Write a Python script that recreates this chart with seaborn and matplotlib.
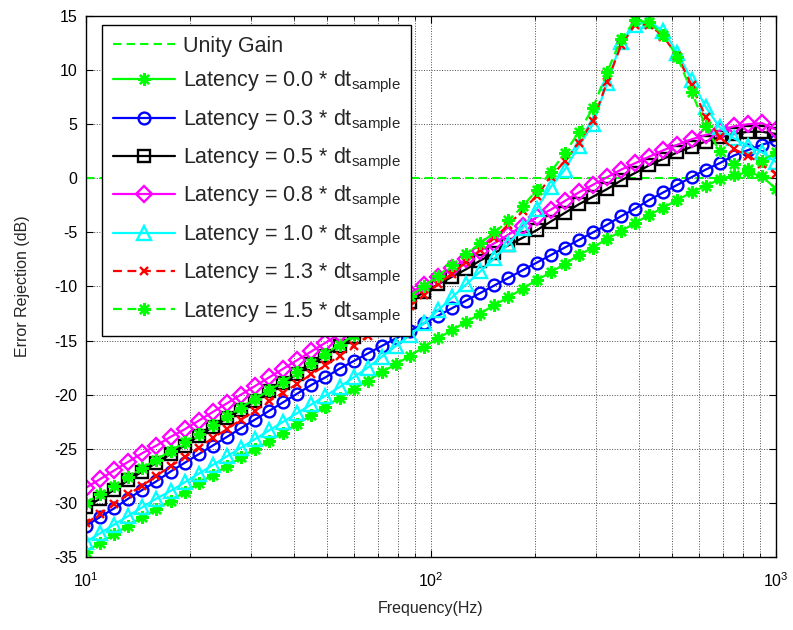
import matplotlib
matplotlib.use("Agg")
import matplotlib.pyplot as plt
import seaborn as sns

# frequency grid (Hz), 50 log-spaced points
freq = [10.00, 10.99, 12.07, 13.26, 14.56, 16.00, 17.58, 19.31, 21.21, 23.30,
        25.60, 28.12, 30.89, 33.93, 37.28, 40.95, 44.99, 49.42, 54.29, 59.64,
        65.51, 71.97, 79.06, 86.85, 95.41, 104.81, 115.14, 126.49, 138.95, 152.65,
        167.68, 184.21, 202.36, 222.30, 244.21, 268.27, 294.71, 323.75, 355.65, 390.69,
        429.19, 471.49, 517.95, 568.99, 625.06, 686.65, 754.31, 828.64, 910.30, 1000.00]

unity_freq = [10, 1000]
unity_gain = [0, 0]

lat_00 = [-34.5, -33.7, -32.9, -32.1, -31.3, -30.6, -29.8, -29.0, -28.2, -27.4,
          -26.6, -25.8, -25.0, -24.3, -23.5, -22.7, -21.9, -21.1, -20.3, -19.5,
          -18.7, -17.9, -17.2, -16.4, -15.6, -14.8, -14.0, -13.3, -12.5, -11.7,
          -11.0, -10.2, -9.4, -8.7, -7.9, -7.1, -6.4, -5.6, -4.9, -4.1,
          -3.4, -2.7, -2.0, -1.3, -0.7, -0.1, 0.3, 0.55, 0.2, -1.0]

lat_03 = [-32.1, -31.3, -30.5, -29.6, -28.8, -28.0, -27.1, -26.3, -25.5, -24.7,
          -23.9, -23.1, -22.3, -21.5, -20.7, -19.9, -19.1, -18.4, -17.6, -16.9,
          -16.2, -15.5, -14.8, -14.1, -13.4, -12.7, -12.0, -11.3, -10.6, -9.9,
          -9.2, -8.5, -7.8, -7.1, -6.4, -5.7, -5.0, -4.3, -3.5, -2.8,
          -2.0, -1.3, -0.6, 0.1, 0.8, 1.4, 2.1, 2.6, 3.1, 3.5]

lat_05 = [-30.4, -29.6, -28.8, -27.9, -27.1, -26.3, -25.5, -24.7, -23.8, -23.0,
          -22.2, -21.4, -20.6, -19.7, -18.9, -18.1, -17.2, -16.4, -15.5, -14.7,
          -13.9, -13.0, -12.2, -11.4, -10.5, -9.8, -9.1, -8.4, -7.6, -6.9,
          -6.2, -5.5, -4.8, -4.0, -3.2, -2.4, -1.7, -1.0, -0.2, 0.5,
          1.2, 1.8, 2.4, 2.9, 3.4, 3.8, 4.1, 4.3, 4.3, 4.1]

lat_08 = [-28.6, -27.8, -27.0, -26.2, -25.4, -24.7, -23.9, -23.2, -22.4, -21.6,
          -20.8, -20.0, -19.2, -18.4, -17.6, -16.8, -16.0, -15.2, -14.4, -13.6,
          -12.9, -12.1, -11.4, -10.6, -9.9, -9.1, -8.3, -7.5, -6.7, -6.0,
          -5.2, -4.4, -3.6, -2.9, -2.1, -1.3, -0.6, 0.1, 0.8, 1.4,
          2.0, 2.6, 3.1, 3.6, 4.0, 4.4, 4.8, 5.0, 5.1, 4.5]

lat_10 = [-33.6, -32.8, -32.0, -31.2, -30.4, -29.6, -28.9, -28.1, -27.3, -26.5,
          -25.7, -24.9, -24.1, -23.3, -22.5, -21.7, -20.9, -20.1, -19.3, -18.4,
          -17.5, -16.5, -15.5, -14.5, -13.4, -12.2, -11.0, -9.8, -8.6, -7.4,
          -6.1, -4.6, -2.8, -0.8, 0.8, 3.0, 5.0, 8.8, 12.6, 14.2,
          14.5, 13.6, 11.6, 9.1, 6.6, 4.7, 3.7, 3.0, 2.4, 1.5]

lat_13 = [-31.9, -31.0, -30.1, -29.2, -28.4, -27.5, -26.6, -25.8, -24.9, -24.0,
          -23.2, -22.3, -21.5, -20.6, -19.8, -19.0, -18.1, -17.3, -16.4, -15.5,
          -14.6, -13.7, -12.8, -11.8, -10.8, -9.8, -8.8, -7.7, -6.6, -5.5,
          -4.3, -3.0, -1.6, 0.1, 1.6, 3.3, 5.3, 8.9, 12.3, 14.2,
          14.2, 13.1, 11.3, 8.6, 5.7, 3.8, 2.7, 2.1, 1.3, 0.4]

lat_15 = [-30.0, -29.2, -28.4, -27.6, -26.8, -26.0, -25.2, -24.4, -23.6, -22.8,
          -22.0, -21.2, -20.4, -19.6, -18.8, -17.9, -17.1, -16.2, -15.4, -14.5,
          -13.6, -12.7, -11.8, -10.9, -10.0, -9.0, -8.0, -7.0, -6.0, -5.0,
          -3.9, -2.6, -1.1, 0.6, 2.3, 4.3, 6.5, 9.8, 12.9, 14.6,
          14.4, 13.2, 11.2, 8.0, 4.8, 2.5, 1.3, 0.9, 1.6, 2.4]

latencies = ["0.0", "0.3", "0.5", "0.8", "1.0", "1.3", "1.5"]
series = [lat_00, lat_03, lat_05, lat_08, lat_10, lat_13, lat_15]

star = (8, 2, 0)
dash = (0, (4, 2.5))
styles = [
    dict(color="#00ff00", linestyle="-", marker=star, markersize=9),
    dict(color="#0000ff", linestyle="-", marker="o", markersize=8.5),
    dict(color="#000000", linestyle="-", marker="s", markersize=8.5),
    dict(color="#ff00ff", linestyle="-", marker="D", markersize=8),
    dict(color="#00ffff", linestyle="-", marker="^", markersize=10.5),
    dict(color="#ff0000", linestyle=dash, marker="x", markersize=6),
    dict(color="#00ff00", linestyle=dash, marker=star, markersize=9),
]

sns.set_style("white")
plt.rcParams["font.family"] = ["Liberation Sans", "DejaVu Sans"]
plt.rcParams["mathtext.fontset"] = "custom"
plt.rcParams["mathtext.rm"] = "Liberation Sans"
plt.rcParams["axes.unicode_minus"] = False

fig = plt.figure(figsize=(7.93, 6.30), dpi=100)
ax = fig.add_axes([0.1085, 0.1159, 0.8701, 0.8587])

sns.lineplot(x=unity_freq, y=unity_gain, ax=ax, color="#00ff00",
             linestyle=dash, linewidth=1.5, errorbar=None)

for vals, st in zip(series, styles):
    sns.lineplot(x=freq, y=vals, ax=ax, errorbar=None, linewidth=1.6,
                 markeredgecolor=st["color"], markerfacecolor="none",
                 markeredgewidth=1.7, **st)

labels = ["Unity Gain"] + [f"Latency = {l} * dt$_{{\\mathregular{{sample}}}}$"
                           for l in latencies]
leg = ax.legend(ax.get_lines(), labels, loc="upper left",
                bbox_to_anchor=(0.023, 0.983), borderaxespad=0,
                frameon=True, fancybox=False, edgecolor="black", framealpha=1,
                fontsize=15.5, handlelength=2.9, labelspacing=0.57,
                borderpad=0.5, handletextpad=0.35)
leg.get_frame().set_linewidth(1.0)

ax.set_xscale("log")
ax.set_xlim(10, 1000)
ax.set_ylim(-35, 15)
ax.set_yticks(range(-35, 16, 5))

ax.grid(True, which="major", linestyle=":", color="0.3", linewidth=0.7)
ax.grid(True, which="minor", axis="x", linestyle=":", color="0.3", linewidth=0.7)
ax.set_axisbelow(True)

ax.tick_params(which="both", direction="in", bottom=True, top=True,
               left=True, right=True, colors="black", labelsize=11.5)
ax.tick_params(which="major", length=5)
ax.tick_params(which="minor", length=3)
ax.tick_params(axis="x", pad=10)
ax.tick_params(axis="y", pad=6)
for sp in ax.spines.values():
    sp.set_color("black")
    sp.set_linewidth(1.0)

ax.set_xlabel("Frequency(Hz)", fontsize=11.5, labelpad=8)
ax.set_ylabel("Error Rejection (dB)", fontsize=11.5, labelpad=18)

fig.savefig("out.png", dpi=100)
